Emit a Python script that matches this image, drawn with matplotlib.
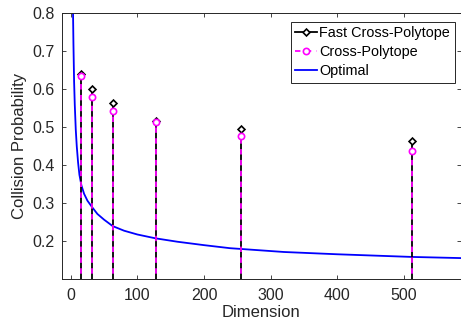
import matplotlib
matplotlib.use("Agg")
import matplotlib.pyplot as plt
from matplotlib.lines import Line2D

dims = [16, 32, 64, 128, 256, 512]
fast_cp = [0.640, 0.600, 0.565, 0.517, 0.495, 0.465]
cross_cp = [0.636, 0.580, 0.542, 0.515, 0.478, 0.437]

opt_d = [3.4, 4, 5, 6, 7.5, 9, 11, 13, 16, 20, 25, 32, 40, 50, 63, 80, 100,
         127, 160, 200, 239, 320, 400, 512, 585]
opt_p = [0.80, 0.72, 0.62, 0.56, 0.494, 0.45, 0.407, 0.375, 0.347, 0.325,
         0.307, 0.290, 0.272, 0.257, 0.240, 0.228, 0.218, 0.208, 0.199,
         0.190, 0.182, 0.172, 0.166, 0.159, 0.156]

plt.rcParams['font.family'] = ['Liberation Sans', 'DejaVu Sans']
fig = plt.figure(figsize=(4.61, 3.31), dpi=100)
ax = fig.add_axes([0.134, 0.156, 0.865, 0.804])

axcol = '#262626'
ax.plot(opt_d, opt_p, color='#0000ff', lw=1.3, zorder=2)
ax.vlines(dims, 0, fast_cp, color='black', lw=1.3, zorder=3)
ax.plot(dims, fast_cp, linestyle='none', marker='D', ms=3.5, mfc='white',
        mec='black', mew=1.2, zorder=5)
ax.vlines(dims, 0, cross_cp, color='#ff00ff', lw=1.3, linestyles=(0, (3, 3)), zorder=4)
ax.plot(dims, cross_cp, linestyle='none', marker='o', ms=4.5, mfc='white',
        mec='#ff00ff', mew=1.2, zorder=6)

ax.set_xlim(-13.5, 585)
ax.set_ylim(0.1, 0.8)
ax.set_xticks([0, 100, 200, 300, 400, 500])
ax.set_yticks([0.2, 0.3, 0.4, 0.5, 0.6, 0.7, 0.8])
ax.set_yticklabels(['0.2', '0.3', '0.4', '0.5', '0.6', '0.7', '0.8'])
ax.tick_params(direction='in', length=3, width=0.6, top=True, right=True,
               labelsize=11.5, colors=axcol)
ax.tick_params(axis='x', pad=6)
ax.tick_params(axis='y', pad=5)
for s in ax.spines.values():
    s.set_color(axcol)
    s.set_linewidth(0.7)
ax.set_xlabel('Dimension', fontsize=12, color=axcol, labelpad=2)
ax.set_ylabel('Collision Probability', fontsize=12, color=axcol, labelpad=4)

handles = [
    Line2D([0], [0], color='black', lw=1.3, marker='D', ms=3.5, mfc='white', mec='black', mew=1.2),
    Line2D([0], [0], color='#ff00ff', lw=1.3, linestyle=(0, (3, 3)), marker='o', ms=4.5, mfc='white', mec='#ff00ff', mew=1.2),
    Line2D([0], [0], color='#0000ff', lw=1.3),
]
leg = ax.legend(handles, ['Fast Cross-Polytope', 'Cross-Polytope', 'Optimal'],
                loc='upper right', bbox_to_anchor=(0.985, 0.968), fontsize=10.4,
                frameon=True, fancybox=False, edgecolor=axcol, framealpha=1,
                handlelength=1.5, handletextpad=0.2, borderpad=0.3,
                labelspacing=0.35, borderaxespad=0)
leg.get_frame().set_linewidth(0.7)

fig.savefig('out.png', dpi=100)
